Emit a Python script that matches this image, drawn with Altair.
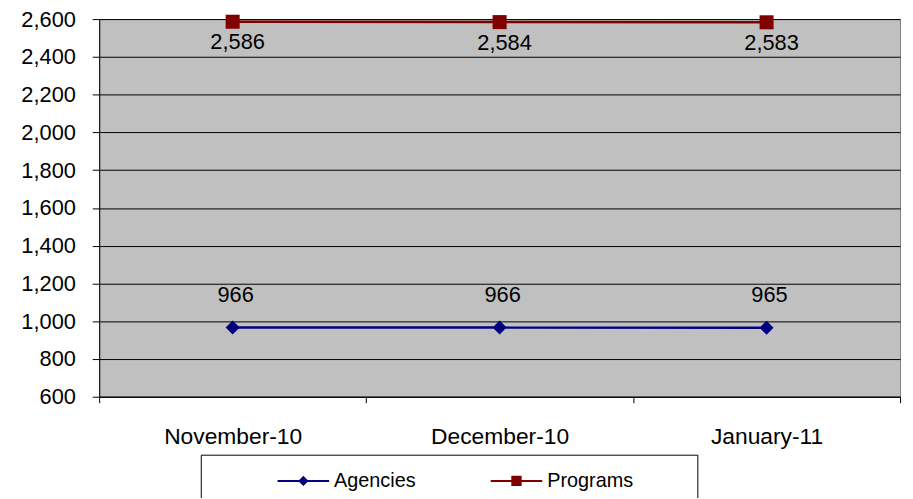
import altair as alt
import pandas as pd

months = ["November-10", "December-10", "January-11"]
series = ["Agencies", "Programs"]
agencies = [966, 966, 965]
programs = [2586, 2584, 2583]
colors = ["#000080", "#800000"]
y_ticks = [600, 800, 1000, 1200, 1400, 1600, 1800, 2000, 2200, 2400, 2600]

rows = []
for m, a, p in zip(months, agencies, programs):
    rows.append({"month": m, "series": "Agencies", "value": a})
    rows.append({"month": m, "series": "Programs", "value": p})
df = pd.DataFrame(rows)

FONT = "Liberation Sans"
W, H = 808, 381

x_enc = alt.X(
    "month:N",
    sort=months,
    scale=alt.Scale(type="band", paddingInner=0, paddingOuter=0),
    axis=alt.Axis(
        title=None, tickBand="extent", labelAngle=0, grid=False,
        domainColor="black", tickColor="black", tickSize=6,
        labelFontSize=23, labelFont=FONT, labelColor="black", labelPadding=23,
    ),
)
y_enc = alt.Y(
    "value:Q",
    scale=alt.Scale(domain=[600, 2600], nice=False, zero=False),
    axis=alt.Axis(
        title=None, values=y_ticks, format=",d", grid=True, gridColor="black",
        gridWidth=1, domainColor="black", tickColor="black", tickSize=7,
        labelFontSize=22, labelFont=FONT, labelColor="black", labelPadding=17,
    ),
)
col = alt.Color("series:N", scale=alt.Scale(domain=series, range=colors), legend=None)

base = alt.Chart(df)

lines = base.mark_line(strokeWidth=2.5).encode(x=x_enc, y=y_enc, color=col)
points_a = base.transform_filter(alt.datum.series == "Agencies").mark_point(
    filled=True, size=200, opacity=1, shape="diamond"
).encode(x=x_enc, y=y_enc, color=col)
points_p = base.transform_filter(alt.datum.series == "Programs").mark_point(
    filled=True, size=200, opacity=1, shape="square"
).encode(x=x_enc, y=y_enc, color=col)
text_p = base.transform_filter(alt.datum.series == "Programs").mark_text(
    dy=21, dx=5, fontSize=22, font=FONT, color="black"
).encode(x=x_enc, y=y_enc, text=alt.Text("value:Q", format=","))
text_a = base.transform_filter(alt.datum.series == "Agencies").mark_text(
    dy=-33, dx=3, fontSize=22, font=FONT, color="black"
).encode(x=x_enc, y=y_enc, text=alt.Text("value:Q", format=","))

# legend symbols: a filled thin bar (line) plus a marker, all fill
diamond_path = "M-1,-0.04L1,-0.04L1,0.04L-1,0.04Z M0,-0.2L0.2,0L0,0.2L-0.2,0Z"
square_path = "M-1,-0.04L1,-0.04L1,0.04L-1,0.04Z M-0.2,-0.2L0.2,-0.2L0.2,0.2L-0.2,0.2Z"

leg = alt.Legend(
    title=None, orient="none", legendX=180, legendY=440, direction="horizontal",
    symbolSize=2704, symbolOpacity=1, symbolStrokeWidth=0, labelFontSize=20, labelFont=FONT,
    labelColor="black", labelOffset=5, columnPadding=75, padding=0,
)
legend_layer = base.mark_point(filled=True, size=2704, opacity=0).encode(
    x=x_enc, y=y_enc,
    color=alt.Color("series:N", scale=alt.Scale(domain=series, range=colors), legend=leg),
    shape=alt.Shape("series:N", scale=alt.Scale(domain=series, range=[diamond_path, square_path]), legend=leg),
)

# legend frame (decoration only)
frame = alt.Chart(alt.Data(values=[{}])).mark_rect(
    fill="white", stroke="black", strokeWidth=1
).encode(x=alt.value(103), x2=alt.value(604), y=alt.value(440), y2=alt.value(500))

chart = alt.layer(frame, lines, points_a, points_p, text_p, text_a, legend_layer).resolve_scale(
    color="independent", shape="independent"
).properties(
    width=W, height=H,
    background="white",
    padding={"left": 92, "top": 9, "right": 5, "bottom": 100},
    autosize=alt.AutoSizeParams(type="none"),
).configure_view(
    fill="#C0C0C0", stroke="#808080", strokeWidth=1
)

chart.save("out.html", embed_options={"renderer": "svg", "actions": False})
